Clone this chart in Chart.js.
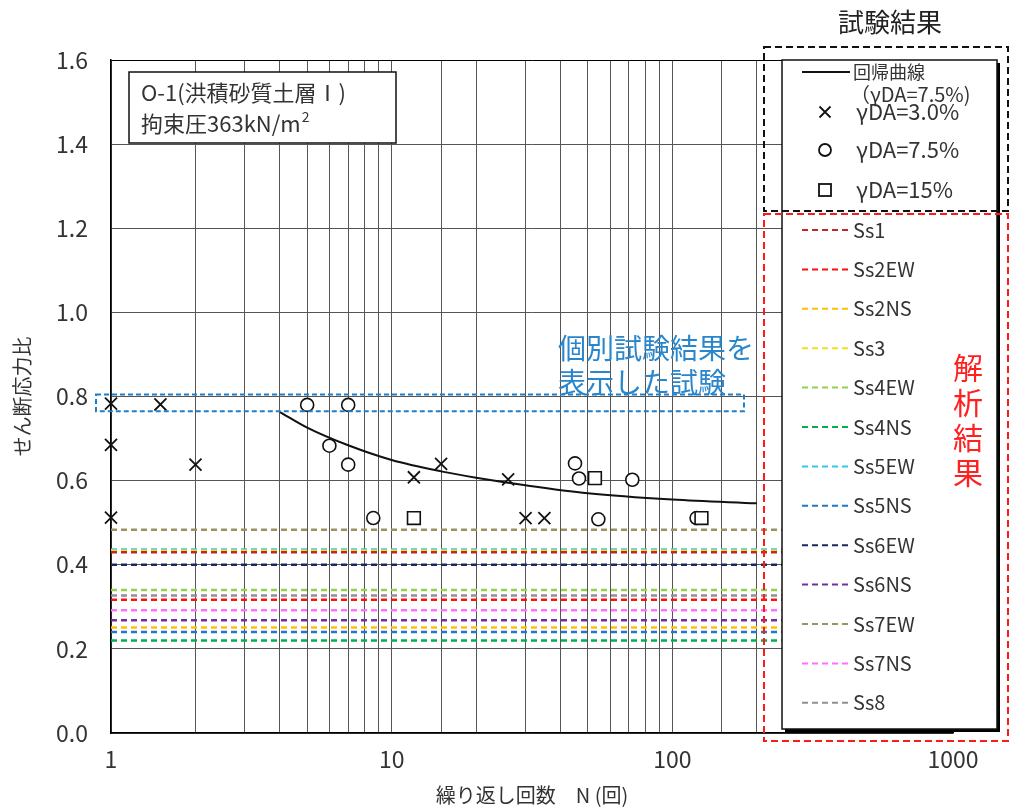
<!DOCTYPE html>
<html><head><meta charset="utf-8">
<script src="https://cdn.jsdelivr.net/npm/chart.js@4/dist/chart.umd.min.js"></script>
<style>html,body{margin:0;padding:0;background:#fff}#wrap{width:1010px;height:809px}</style>
</head><body><div id="wrap"><canvas id="c" width="1010" height="809"></canvas></div>
<script>
// ---------- data ----------
const xTickLabels = [1, 10, 100, 1000];
const yTickValues = [0, 0.2, 0.4, 0.6, 0.8, 1.0, 1.2, 1.4, 1.6];

// regression curve (γDA=7.5%)
const curveN     = [4, 5, 7, 10, 15, 20, 30, 50, 100, 200];
const curveRatio = [0.763, 0.726, 0.684, 0.649, 0.622, 0.607, 0.589, 0.570, 0.555, 0.546];

// γDA=3.0%
const crossN     = [1, 1.5, 1, 1, 2, 12, 15, 26, 30, 35];
const crossRatio = [0.783, 0.781, 0.685, 0.512, 0.638, 0.608, 0.640, 0.603, 0.511, 0.511];

// γDA=7.5%
const circleN     = [5, 7, 6, 7, 8.6, 45, 46.5, 54.5, 72, 122];
const circleRatio = [0.780, 0.780, 0.683, 0.638, 0.511, 0.641, 0.605, 0.508, 0.602, 0.511];

// γDA=15%
const squareN     = [12, 53, 127];
const squareRatio = [0.511, 0.606, 0.511];

// analysis results (horizontal dashed lines)
const analysisLabels = ['Ss1','Ss2EW','Ss2NS','Ss3','Ss4EW','Ss4NS','Ss5EW','Ss5NS','Ss6EW','Ss6NS','Ss7EW','Ss7NS','Ss8'];
const analysisRatio  = [0.430, 0.317, 0.251, 0.433, 0.340, 0.220, 0.436, 0.240, 0.400, 0.268, 0.483, 0.292, 0.327];
const analysisColors = ['#c0282a','#ff1010','#ffc000','#f0e020','#92d050','#00b050','#30c8e8','#1f78c8','#1a2a60','#7030a0','#9a9260','#ff70ff','#909090'];

const FONT = '"Noto Sans CJK JP","Noto Sans",sans-serif';

const pts = (xs, ys) => xs.map((v, i) => ({x: v, y: ys[i]}));

const datasets = [];
datasets.push({label:'γDA=15%', data: pts(squareN, squareRatio), pointStyle:'rect', pointRadius:9,
  pointBackgroundColor:'#fff', pointBorderColor:'#111', pointBorderWidth:1.6, showLine:false, clip:false, order:0});
datasets.push({label:'γDA=7.5%', data: pts(circleN, circleRatio), pointStyle:'circle', pointRadius:6.5,
  pointBackgroundColor:'#fff', pointBorderColor:'#111', pointBorderWidth:1.6, showLine:false, clip:false, order:1});
datasets.push({label:'γDA=3.0%', data: pts(crossN, crossRatio), pointStyle:'crossRot', pointRadius:8.5,
  pointBorderColor:'#111', pointBorderWidth:1.8, showLine:false, clip:false, order:2});
datasets.push({label:'回帰曲線', data: pts(curveN, curveRatio), showLine:true, borderColor:'#111', borderWidth:2,
  pointRadius:0, cubicInterpolationMode:'monotone', order:3});
analysisLabels.forEach((lab, i) => {
  datasets.push({label: lab, data: pts([1, 1000], [analysisRatio[i], analysisRatio[i]]), showLine:true,
    borderColor: analysisColors[i], borderWidth: 2.5, borderDash:[6,4], pointRadius:0, order: 4 + i});
});

const overlay = {
  id: 'overlay',
  afterDraw(chart) {
    const {ctx, chartArea: ca, scales: {x, y}} = chart;
    ctx.save();
    // ---- info box ----
    const bx = ca.left + 18, by = ca.top + 12, bw = 267, bh = 71;
    ctx.fillStyle = '#fff'; ctx.fillRect(bx, by, bw, bh);
    ctx.strokeStyle = '#111'; ctx.lineWidth = 1.5; ctx.setLineDash([]); ctx.strokeRect(bx, by, bw, bh);
    ctx.fillStyle = '#333'; ctx.textBaseline = 'middle'; ctx.textAlign = 'left';
    ctx.font = '22px ' + FONT;
    ctx.fillText('O-1(洪積砂質土層Ⅰ)', bx + 12, by + 21);
    const l2 = '拘束圧363kN/m';
    ctx.fillText(l2, bx + 12, by + 52);
    const w2 = ctx.measureText(l2).width;
    ctx.font = '14px ' + FONT;
    ctx.fillText('2', bx + 12 + w2 + 1, by + 45);

    // ---- blue highlight box ----
    const x1 = x.getPixelForValue(1) - 15, x2 = x.getPixelForValue(180);
    const y1 = y.getPixelForValue(0.805), y2 = y.getPixelForValue(0.765);
    ctx.strokeStyle = '#1f7ec8'; ctx.lineWidth = 2; ctx.setLineDash([5, 3]);
    ctx.strokeRect(x1, y1, x2 - x1, y2 - y1);
    ctx.setLineDash([]);
    ctx.fillStyle = '#2a86cc'; ctx.font = '28px ' + FONT;
    ctx.fillText('個別試験結果を', 558, 348);
    ctx.fillText('表示した試験', 558, 382);

    // ---- legend box ----
    const L = 782, T = 60, W = 215, H = 669;
    ctx.fillStyle = '#000'; ctx.fillRect(L + 3, T + 3, W, H);
    ctx.fillStyle = '#fff'; ctx.fillRect(L, T, W, H);
    ctx.strokeStyle = '#111'; ctx.lineWidth = 1.5; ctx.strokeRect(L, T, W, H);

    ctx.fillStyle = '#333';
    // regression
    ctx.strokeStyle = '#111'; ctx.lineWidth = 2;
    ctx.beginPath(); ctx.moveTo(802, 72); ctx.lineTo(850, 72); ctx.stroke();
    ctx.font = '18px ' + FONT; ctx.fillText('回帰曲線', 853, 72);
    ctx.font = '20px ' + FONT; ctx.fillText('（γDA=7.5%)', 850, 94);
    // markers
    const mx = 825;
    ctx.lineWidth = 1.8;
    ctx.beginPath(); ctx.moveTo(mx - 5.5, 106.5); ctx.lineTo(mx + 5.5, 117.5);
    ctx.moveTo(mx + 5.5, 106.5); ctx.lineTo(mx - 5.5, 117.5); ctx.stroke();
    ctx.beginPath(); ctx.arc(mx, 150, 6, 0, Math.PI * 2); ctx.stroke();
    ctx.strokeRect(mx - 6, 184, 12, 12);
    ctx.font = '22px ' + FONT;
    ctx.fillText('γDA=3.0%', 856, 112);
    ctx.fillText('γDA=7.5%', 856, 150);
    ctx.fillText('γDA=15%', 856, 190);
    // analysis
    ctx.font = '20px ' + FONT;
    analysisLabels.forEach((lab, i) => {
      const yy = 230 + i * 39.4;
      ctx.strokeStyle = analysisColors[i]; ctx.lineWidth = 2; ctx.setLineDash([6, 4]);
      ctx.beginPath(); ctx.moveTo(802, yy); ctx.lineTo(848, yy); ctx.stroke();
      ctx.setLineDash([]);
      ctx.fillStyle = '#333'; ctx.fillText(lab, 853, yy);
    });

    // ---- group frames ----
    ctx.lineWidth = 2; ctx.setLineDash([7, 4]);
    ctx.strokeStyle = '#111'; ctx.strokeRect(764, 47, 244, 164);
    ctx.strokeStyle = '#ff1a1a'; ctx.strokeRect(764, 214, 244, 527);
    ctx.setLineDash([]);
    ctx.textAlign = 'center';
    ctx.fillStyle = '#222'; ctx.font = '26px ' + FONT;
    ctx.fillText('試験結果', 890, 22);
    ctx.fillStyle = '#ff2020'; ctx.font = '30px ' + FONT;
    ['解', '析', '結', '果'].forEach((ch, i) => ctx.fillText(ch, 968, 368 + i * 35));
    ctx.restore();
  }
};

new Chart(document.getElementById('c'), {
  type: 'scatter',
  data: { datasets },
  options: {
    responsive: false, animation: false, devicePixelRatio: 1,
    layout: { padding: { top: 60, right: 57, left: 0, bottom: 0 } },
    plugins: { legend: { display: false }, tooltip: { enabled: false } },
    scales: {
      x: {
        type: 'logarithmic', min: 1, max: 1000, position: 'bottom',
        afterFit(s) { s.height = 76; },
        grid: { color: '#555', lineWidth: 1, drawTicks: false },
        border: { color: '#000', width: 1.5 },
        ticks: {
          padding: 12, color: '#333', font: { size: 23, family: FONT }, maxRotation: 0, autoSkip: false,
          callback: (v) => xTickLabels.find(t => Math.abs(t - v) < 1e-6) !== undefined ? String(v) : ''
        },
        title: { display: true, text: '繰り返し回数　N (回)', color: '#333', font: { size: 20, family: FONT }, padding: { top: 2, bottom: 2 } }
      },
      y: {
        min: 0, max: 1.6,
        afterFit(s) { s.width = 111; },
        afterBuildTicks(s) { s.ticks = yTickValues.map(v => ({ value: v })); },
        grid: { color: (c) => (c.tick && c.tick.value >= 1.6 ? '#000' : '#555'), lineWidth: 1, drawTicks: false },
        border: { color: '#000', width: 1.5 },
        ticks: { padding: 23, color: '#333', font: { size: 23, family: FONT }, callback: (v) => Number(v).toFixed(1) },
        title: { display: true, text: 'せん断応力比', color: '#333', font: { size: 20, family: FONT }, padding: { top: 10, bottom: 0 } }
      }
    }
  },
  plugins: [overlay]
});
</script></body></html>
